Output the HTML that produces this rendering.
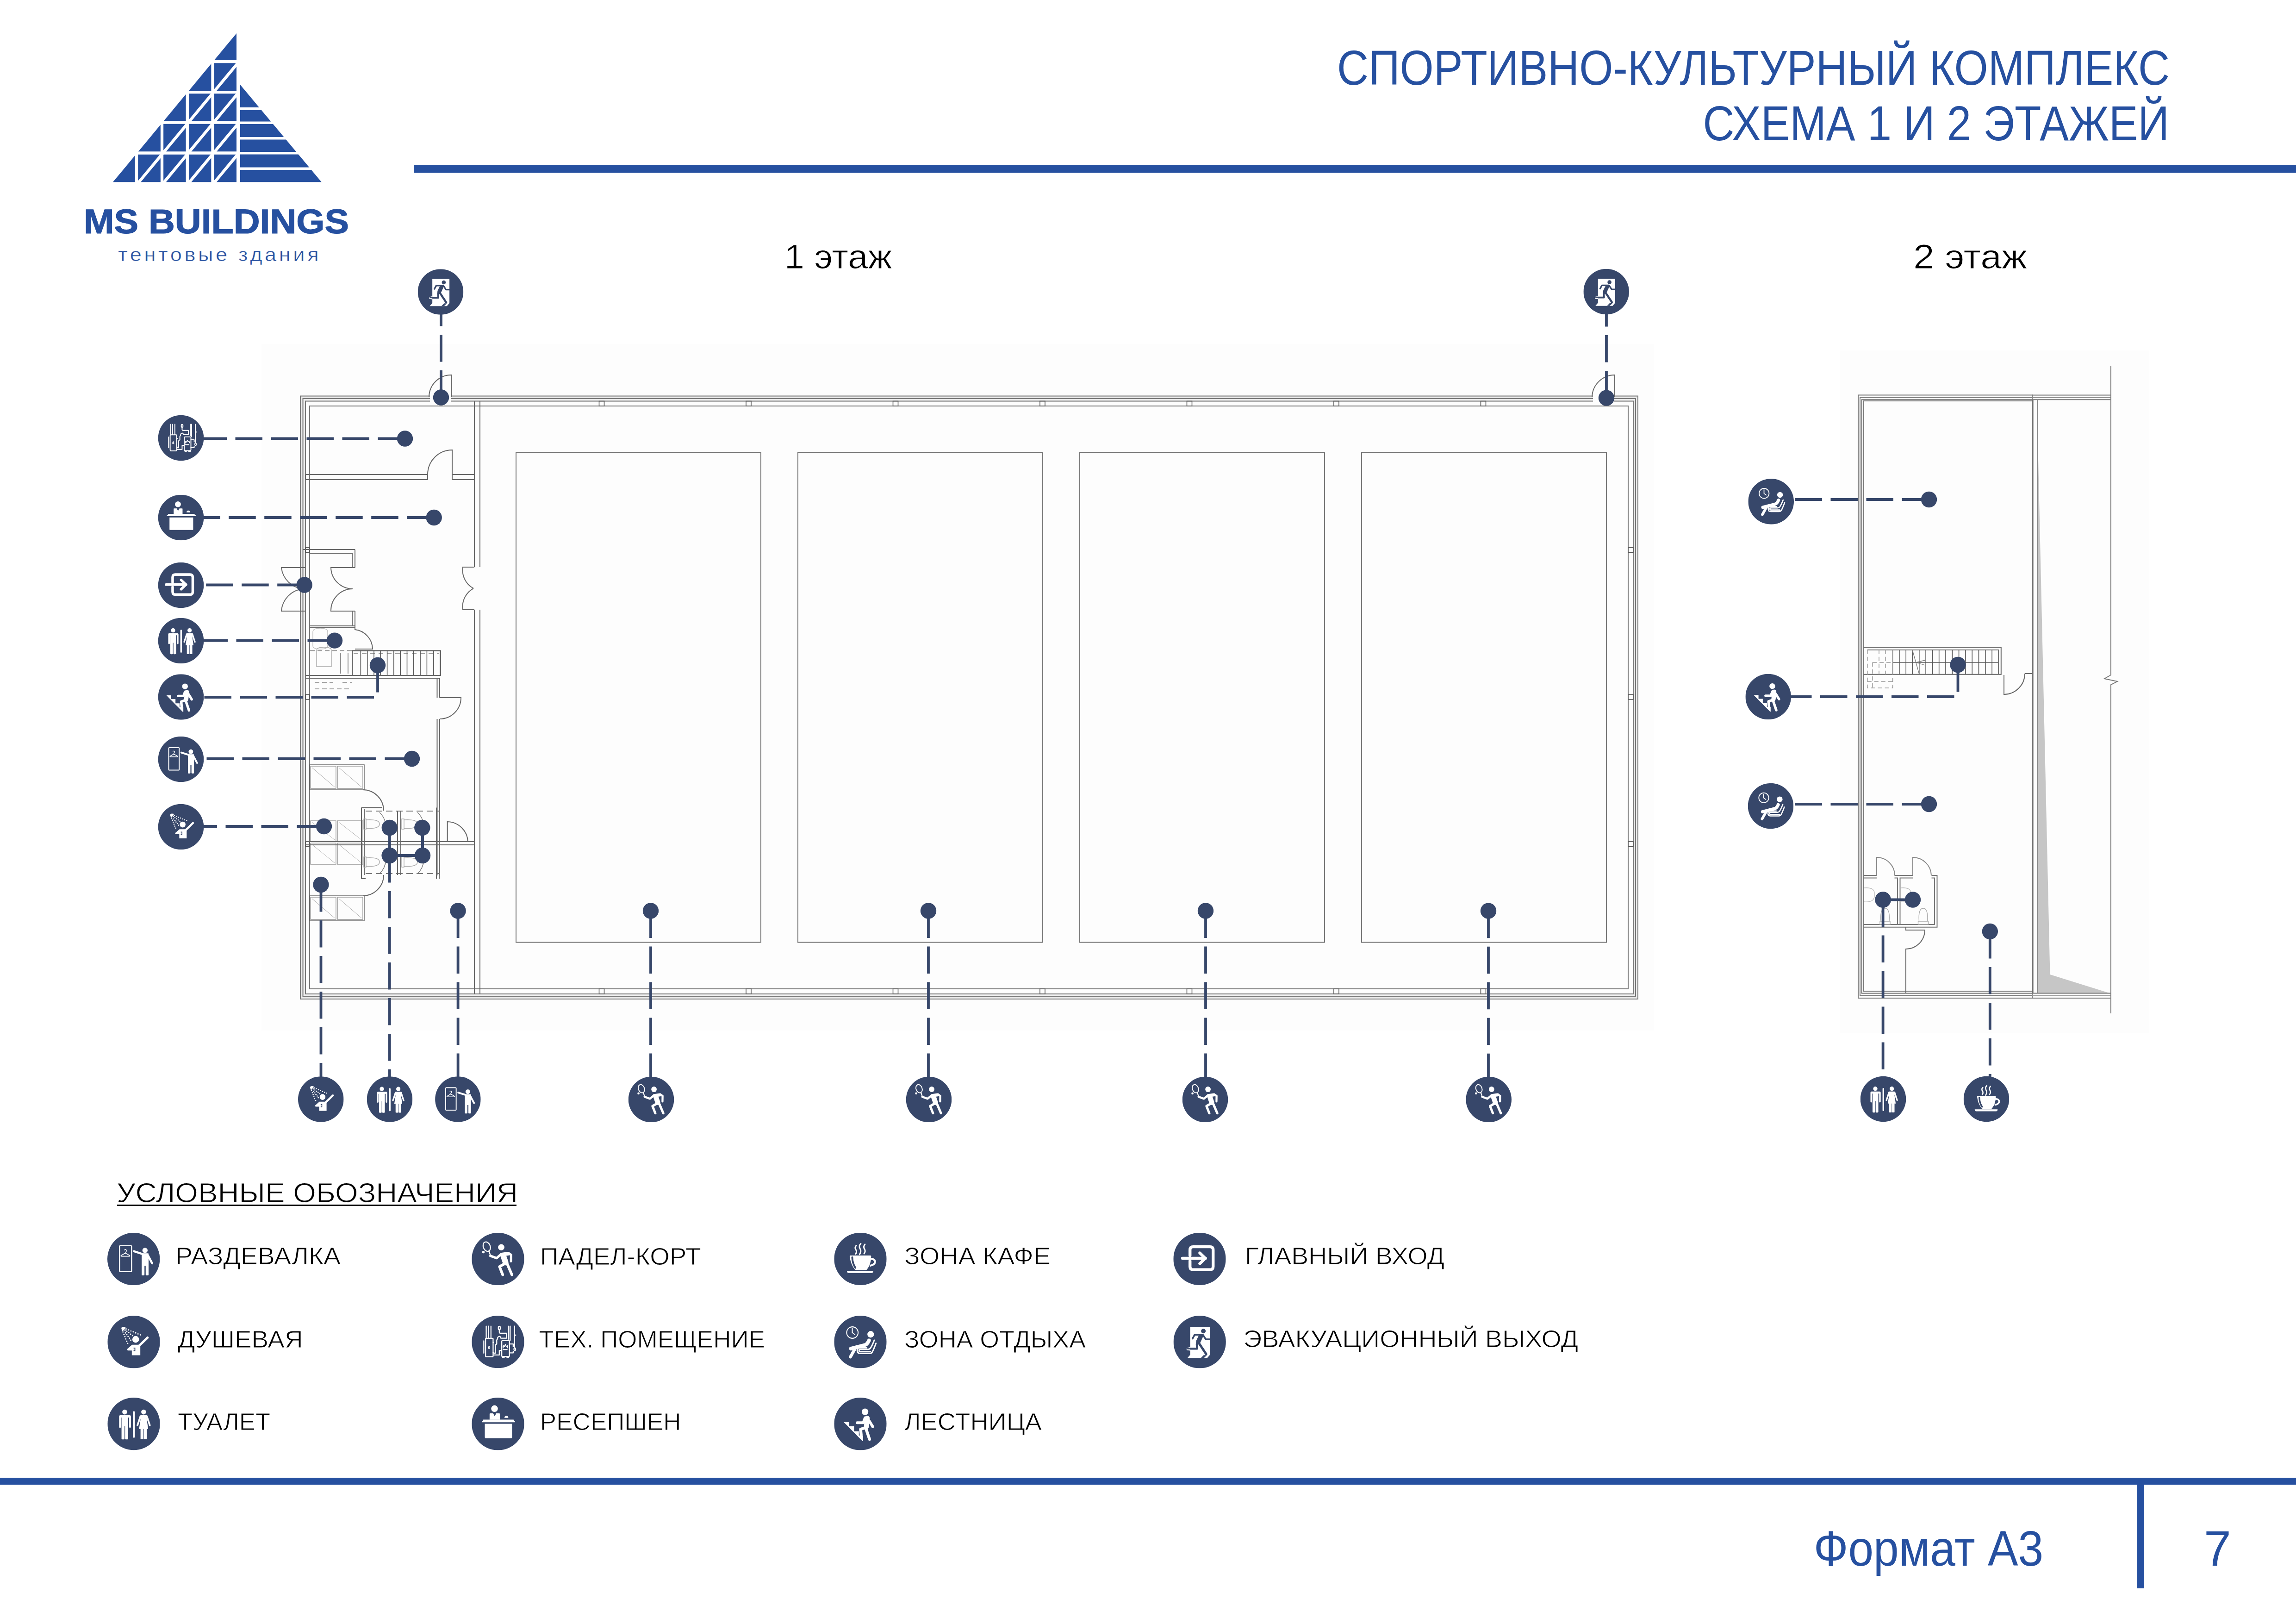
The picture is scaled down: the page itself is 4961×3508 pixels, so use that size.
<!DOCTYPE html>
<html><head><meta charset="utf-8"><style>
html,body{margin:0;padding:0;background:#fff;}
body{width:4961px;height:3508px;overflow:hidden;position:relative;}
svg{position:absolute;left:0;top:0;}
text{font-family:"Liberation Sans",sans-serif;}
</style></head><body>
<svg width="4961" height="3508" viewBox="0 0 4961 3508">
<defs>
<symbol id="i-exit" viewBox="0 0 100 100"><circle cx="50" cy="50" r="50" fill="#37476a"/>
<path fill="#fff" d="M31.9,21.7 H69.4 V74.7 L63.8,81.1 H26.1 L31.9,74.4 Z"/>
<path fill="#fff" d="M31.9,59.5 L26.5,61 Q24,63 25.5,65.5 L31.9,66.5 Z"/>
<g stroke="#37476a" fill="none" stroke-linecap="round" stroke-linejoin="round">
<circle cx="57" cy="29.2" r="4.4" fill="#37476a" stroke="none"/>
<path d="M40.5,36.2 H55.5" stroke-width="3.2"/>
<path d="M40.5,36.2 L36.4,43.5" stroke-width="3.3"/>
<path d="M56.2,36.5 L61.8,45.1 H69.6" stroke-width="3.3"/>
<path d="M44.5,53.5 L45,62.8 H28" stroke-width="4"/>
<path d="M49,53 L62.3,73" stroke-width="4.4"/>
</g>
<path fill="#37476a" d="M48.4,37.2 L56.2,34.4 Q57.5,36 55.6,41.5 L49.6,54.5 L43.2,55 Q42.6,50 43.4,47.5 Z"/>
<path fill="#37476a" d="M51.7,81.1 L57.6,75 H63.8 L57.5,81.1 Z"/>
<path d="M26.8,64.6 H31.9" stroke="#fff" stroke-width="1.2"/>
</symbol>
<symbol id="i-locker" viewBox="0 0 100 100"><circle cx="50" cy="50" r="50" fill="#37476a"/>
<rect x="23.2" y="24.7" width="23" height="49.2" rx="1.6" fill="none" stroke="#fff" stroke-width="2"/>
<path d="M34.3,38.6 L26.2,43.3 Q25.2,44.7 26.8,44.7 H41.9 Q43.5,44.7 42.5,43.3 Z" fill="none" stroke="#fff" stroke-width="1.5" stroke-linejoin="round"/>
<path d="M34.3,38.6 V37.2 Q36.4,36.3 36.3,34.1 Q36.1,31.8 34.2,31.8 Q32.5,31.9 32.4,33.6" fill="none" stroke="#fff" stroke-width="1.3"/>
<circle cx="71.7" cy="33.5" r="5" fill="#fff"/>
<path fill="#fff" d="M65.3,40 Q65.3,39.2 66.3,39.2 H77.5 Q78.5,39.2 78.5,40.5 V79.8 Q78.5,81.2 77,81.2 H74.4 Q73,81.2 73,79.8 V62.8 H70.7 V79.8 Q70.7,81.2 69.3,81.2 H66.7 Q65.3,81.2 65.3,79.8 Z"/>
<path d="M50.8,35.3 L67,40.6" stroke="#fff" stroke-width="4" stroke-linecap="round"/>
<path d="M77,42.5 L85.3,58.2" stroke="#fff" stroke-width="4" stroke-linecap="round"/>
</symbol>
<symbol id="i-shower" viewBox="0 0 100 100"><circle cx="50" cy="50" r="50" fill="#37476a"/>
<g fill="#fff"><circle cx="35.5" cy="25.3" r="1.3"/><circle cx="40.2" cy="27" r="1.3"/><circle cx="44.6" cy="29.1" r="1.3"/><circle cx="49" cy="30.7" r="1.3"/><circle cx="53.7" cy="32.8" r="1.3"/><circle cx="58.1" cy="34.8" r="1.3"/><circle cx="62.5" cy="36.5" r="1.3"/><circle cx="29.4" cy="31.1" r="1.3"/><circle cx="31.4" cy="35.5" r="1.3"/><circle cx="33.1" cy="39.9" r="1.3"/><circle cx="34.8" cy="44.3" r="1.3"/><circle cx="36.5" cy="48.6" r="1.3"/><circle cx="38.5" cy="52.7" r="1.3"/><circle cx="33.4" cy="27.4" r="1.3"/><circle cx="36.8" cy="29.7" r="1.3"/><circle cx="40.5" cy="32.4" r="1.3"/><circle cx="43.9" cy="35.1" r="1.3"/><circle cx="47.6" cy="37.8" r="1.3"/><circle cx="34.1" cy="32.8" r="1.3"/><circle cx="36.8" cy="36.1" r="1.3"/><circle cx="39.2" cy="39.5" r="1.3"/><circle cx="41.9" cy="42.9" r="1.3"/><circle cx="44.3" cy="46.6" r="1.3"/>
<path d="M26.3,23.6 Q27,20.8 30,21 L33.6,21.3 Q35,22.5 34,24 L28.8,29.6 Q27.2,28.6 26.3,23.6 Z"/>
<circle cx="53.7" cy="45" r="6.4"/>
<path d="M37.8,63.2 L46.8,55.2 H62.5 V75.3 H46.3 V66.2 H39.5 Q36.3,66 37.8,63.2 Z"/>
</g>
<path d="M60,57.5 L76.3,41.7" stroke="#fff" stroke-width="4.4" stroke-linecap="round"/>
<path d="M49.6,61.5 H52.2 V66.6 H49.6" fill="none" stroke="#37476a" stroke-width="1.6"/>
</symbol>
<symbol id="i-toilet" viewBox="0 0 100 100"><circle cx="50" cy="50" r="50" fill="#37476a"/>
<g fill="#fff">
<circle cx="32.8" cy="27.4" r="4.7"/>
<path d="M24.5,33.5 H42 Q44.6,33.5 44.6,36.3 V55.8 Q44.6,57.5 42.7,57.5 Q41.2,57.5 41.2,55.8 V38 H39.4 V78.2 Q39.4,79.6 37.7,79.6 H35 Q33.5,79.6 33.5,78.2 V54.5 H32.4 V78.2 Q32.4,79.6 30.9,79.6 H28.4 Q26.7,79.6 26.7,78.2 V38 H25.6 V55.8 Q25.6,57.5 23.8,57.5 Q22.1,57.5 22.1,55.8 V36.3 Q22.1,33.5 24.5,33.5 Z"/>
<rect x="48.6" y="25.7" width="3.4" height="50.7" rx="1.7"/>
<circle cx="68.9" cy="27.4" r="4.7"/>
<path d="M63.5,33.5 H74.3 Q76,33.5 76.6,35 L82.2,52.3 Q82.6,54 81,54.3 Q79.5,54.6 79,53 L74.5,40 L77.5,59.8 H74.9 V78.4 Q74.9,79.4 73.7,79.4 H70.6 Q69.4,79.4 69.4,78.4 V59.8 H68.6 V78.4 Q68.6,79.4 67.4,79.4 H64.2 Q62.9,79.4 62.9,78.4 V59.8 H60.1 L63.2,40 L58.7,53 Q58.2,54.6 56.7,54.3 Q55.1,54 55.5,52.3 L61.2,35 Q61.8,33.5 63.5,33.5 Z"/>
</g></symbol>
<symbol id="i-padel" viewBox="0 0 100 100"><circle cx="50" cy="50" r="50" fill="#37476a"/>
<ellipse cx="28.6" cy="26.4" rx="6.6" ry="9.3" transform="rotate(-22 28.6 26.4)" fill="none" stroke="#fff" stroke-width="2"/>
<path d="M32.6,34.6 L35.6,43" stroke="#fff" stroke-width="2.2"/>
<circle cx="22.2" cy="36.8" r="2.4" fill="#fff"/>
<circle cx="56.2" cy="27.7" r="6" fill="#fff"/>
<g stroke="#fff" fill="none" stroke-linecap="round" stroke-linejoin="round">
<path d="M35.5,44 L47.2,48.3 L55,41.8" stroke-width="4.6"/>
<path d="M57,41.5 L69.5,39.8" stroke-width="7"/>
<path d="M60.5,45 L64.5,56.5" stroke-width="11"/>
<path d="M70.7,39.6 L75,42 L74.8,54.3" stroke-width="4.4"/>
<path d="M64,58.2 L52.9,64.5 L59,80" stroke-width="5.2"/>
<path d="M67.5,59 L76.5,80" stroke-width="5.2"/>
</g></symbol>
<symbol id="i-tech" viewBox="0 0 100 100"><circle cx="50" cy="50" r="50" fill="#37476a"/>
<g stroke="#fff" fill="none" stroke-width="2" stroke-linecap="round" stroke-linejoin="round">
<rect x="26.3" y="43.2" width="14.4" height="35.1" rx="1.5"/>
<path d="M27.6,20 V43 M31.8,20 V43 M36.6,20 V43"/>
<path d="M23,48 V71.5"/>
<path d="M40.7,51 H42 M40.7,70 H42"/>
<path d="M33.1,58 Q31.2,61 31.8,62 Q32.6,63.5 34.4,62 Q35,61 33.1,58 Z" stroke-width="1.5"/>
<rect x="57.2" y="47.6" width="14.6" height="30.3" rx="1.5"/>
<path d="M58.7,78 V80 H62 V78 M67,78 V80 H70.5 V78" stroke-width="1.6"/>
<path d="M60,64.7 H67.5" stroke-width="1.8"/>
<path d="M60.3,61.5 Q58.8,58.5 61,57 Q61.5,59.5 63,59 Q62.5,56.5 64.3,55 Q65,58.5 66.5,58.5 Q67.5,57.5 67.8,57 Q69.5,59.8 67.8,61.5" stroke-width="1.5"/>
<rect x="50.7" y="20.2" width="3.6" height="6.6" rx="1.8"/>
<path d="M52.5,27 V31.5 Q52.5,33.5 54.5,33.5 H66.3 V43 H55.6 Q54.5,38 51.2,40 Q49,41.2 49.2,43.5 Q49,45 47.6,46.5 V54 L45,56 V71.5 H42"/>
<path d="M70.4,20 V45 M73.2,20 V47 M81.5,20 V61 M81.5,37 H84"/>
<path d="M71.8,54 H79 V59 M71.8,71 H79 V68"/>
<ellipse cx="82" cy="64" rx="1.6" ry="2.5"/>
<path d="M42,75 H52.5 V66.5 H57"/>
</g></symbol>
<symbol id="i-reception" viewBox="0 0 100 100"><circle cx="50" cy="50" r="50" fill="#37476a"/>
<g fill="#fff">
<circle cx="43.4" cy="20.9" r="6.4"/>
<path d="M34.8,30 H40.7 L43.7,35.2 L46.7,30 H52.6 Q53.5,30 53.5,31 V42 H34 V31 Q34,30 34.8,30 Z"/>
<path d="M66,34.5 Q69.7,34.5 69.7,38.6 H62.3 Q62.3,34.5 66,34.5 Z"/>
<path d="M22.3,41.8 H79.4 Q80.1,41.8 80.1,43 V44.2 H81.8 Q82.5,44.2 82.5,45.4 V46 Q82.5,46.9 81.6,46.9 H20 Q19.2,46.9 19.2,46 V45.4 Q19.2,44.2 20,44.2 H21.5 V43 Q21.5,41.8 22.3,41.8 Z"/>
<path d="M24.9,49.8 H76.8 V75.5 Q76.8,77.2 75.2,77.2 H26.5 Q24.9,77.2 24.9,75.5 Z"/>
</g></symbol>
<symbol id="i-cafe" viewBox="0 0 100 100"><circle cx="50" cy="50" r="50" fill="#37476a"/>
<g fill="#fff">
<path d="M30.6,43.4 H69.2 Q70.5,43.4 70.6,45 Q70.5,60 63,69.5 Q62,71.4 60,71.4 H42 Q40,71.4 39,69.5 Q31.5,60 29.6,45 Q29.6,43.4 30.6,43.4 Z"/>
<path d="M24.8,72.5 H74.2 Q74.8,72.5 74.6,73.5 Q74,76.8 71.5,76.8 H27.5 Q25,76.8 24.4,73.5 Q24.2,72.5 24.8,72.5 Z"/>
</g>
<path d="M34.5,47 Q34.8,58 40.5,67" stroke="#37476a" stroke-width="3.5" fill="none" stroke-linecap="round"/>
<path d="M69,49.8 Q76.5,49.5 78,54.5 Q78.5,61 68,63" stroke="#fff" stroke-width="3.6" fill="none"/>
<g stroke="#fff" fill="none" stroke-width="2.6" stroke-linecap="round">
<path d="M42.2,24.5 Q38.6,28 41.2,32 Q44,36 41,40.5"/>
<path d="M50.8,20.8 Q46.4,25 49.4,30.5 Q52.5,35.5 48.5,41.5"/>
<path d="M58.8,22.2 Q55,26.5 57.8,31 Q60.6,35.5 57,40"/>
</g></symbol>
<symbol id="i-rest" viewBox="0 0 100 100"><circle cx="50" cy="50" r="50" fill="#37476a"/>
<circle cx="34.8" cy="32.1" r="10.9" fill="none" stroke="#fff" stroke-width="1.8"/>
<path d="M34.6,23.5 V32.2 L40,36.3" fill="none" stroke="#fff" stroke-width="1.8"/>
<circle cx="69.7" cy="35.4" r="6.3" fill="#fff"/>
<g stroke="#fff" fill="none" stroke-linecap="round" stroke-linejoin="round">
<path d="M66.5,47 Q63,55 58,56 L32,62.6" stroke-width="7"/>
<path d="M39.5,63.5 L31,78.5" stroke-width="5.8"/>
<path d="M76.5,46.6 Q72.5,57 69,62 Q67.5,64 64,64 H49.5 Q47.5,64 47.5,66 Q47.5,68.5 50,68.5 H69" stroke-width="2.6"/>
<path d="M79.8,52.4 Q75.5,64 73,68.5 Q71.5,71.8 67.5,71.8 H49.5 Q44,71.8 44,66 Q44,61 49.5,61 H62" stroke-width="2.6"/>
</g></symbol>
<symbol id="i-stairs" viewBox="0 0 100 100"><circle cx="50" cy="50" r="50" fill="#37476a"/>
<path fill="#fff" d="M18.2,46.5 H28.6 V54.5 H38 V64 H47.1 V72 H55.2 V82.8 L54,82.8 Z"/>
<circle cx="58.9" cy="26.9" r="6.3" fill="#fff"/>
<g stroke="#fff" fill="none" stroke-linecap="round" stroke-linejoin="round">
<path d="M63,39 Q62.5,48 61.5,55" stroke-width="9.5"/>
<path d="M59,38.5 L55.5,47.8 H44" stroke-width="5.4"/>
<path d="M66.7,44 L73.5,55.2" stroke-width="5.4"/>
<path d="M58.5,57.5 L50.5,60.2 L51.5,70.7" stroke-width="5.6"/>
<path d="M61,60 L67.5,79.3" stroke-width="5.6"/>
</g></symbol>
<symbol id="i-entrance" viewBox="0 0 100 100"><circle cx="50" cy="50" r="50" fill="#37476a"/>
<g stroke="#fff" fill="none" stroke-width="5.6" stroke-linecap="round" stroke-linejoin="round">
<path d="M31.7,43.5 V32.8 Q31.7,26.8 37.7,26.8 H69.8 Q75.8,26.8 75.8,32.8 V64.6 Q75.8,70.6 69.8,70.6 H37.7 Q31.7,70.6 31.7,64.6 V54"/>
<path d="M17.4,48.8 H61.2 M50.4,38.7 L60.8,48.8 L50.4,58.9"/>
</g></symbol>
</defs>

<g id="logo">
<polygon points="511,72 511,393.3 244,393.3" fill="#2650a0"/>
<polygon points="519,183 519,393.3 694.7,393.3" fill="#2650a0"/>
<clipPath id="lclip"><polygon points="230,50 513,50 513,400 230,400"/></clipPath>
<g stroke="#fff" stroke-width="6.3" clip-path="url(#lclip)"><line x1="240" y1="133.2" x2="515" y2="133.2"/><line x1="240" y1="199.1" x2="515" y2="199.1"/><line x1="240" y1="264.6" x2="515" y2="264.6"/><line x1="240" y1="330.5" x2="515" y2="330.5"/><line x1="295.0" y1="60" x2="295.0" y2="400"/><line x1="350.0" y1="60" x2="350.0" y2="400"/><line x1="404.8" y1="60" x2="404.8" y2="400"/><line x1="459.5" y1="60" x2="459.5" y2="400"/><line x1="294.5" y1="400" x2="577.1" y2="60"/><line x1="349.1" y1="400" x2="631.7" y2="60"/><line x1="403.7" y1="400" x2="686.3" y2="60"/><line x1="458.3" y1="400" x2="740.9" y2="60"/></g>
<g stroke="#fff" stroke-width="5.5"><line x1="515" y1="234.7" x2="700" y2="234.7"/><line x1="515" y1="265.3" x2="700" y2="265.3"/><line x1="515" y1="298.7" x2="700" y2="298.7"/><line x1="515" y1="330.8" x2="700" y2="330.8"/><line x1="515" y1="364.2" x2="700" y2="364.2"/></g>
</g>
<text x="180.91" y="504" font-size="74" font-weight="bold" fill="#2650a0" textLength="573.13" lengthAdjust="spacingAndGlyphs" stroke="#2650a0" stroke-width="1.2">MS BUILDINGS</text>
<text x="254.98" y="564" font-size="40.6" font-weight="normal" fill="#2650a0" textLength="439.22" lengthAdjust="spacingAndGlyphs" letter-spacing="5" stroke="#fff" stroke-width="0.5">тентовые здания</text>
<rect x="894" y="357" width="4067" height="16" fill="#2650a0"/>
<text x="2888.97" y="183" font-size="105" font-weight="normal" fill="#2650a0" textLength="1799.05" lengthAdjust="spacingAndGlyphs">СПОРТИВНО-КУЛЬТУРНЫЙ КОМПЛЕКС</text>
<text x="3679.44" y="303" font-size="105" font-weight="normal" fill="#2650a0" textLength="1007.67" lengthAdjust="spacingAndGlyphs">СХЕМА 1 И 2 ЭТАЖЕЙ</text>
<rect x="0" y="3192" width="4961" height="15" fill="#2650a0"/>
<rect x="4617" y="3207" width="15" height="224" fill="#2650a0"/>
<text x="3918.87" y="3382" font-size="107" font-weight="normal" fill="#2650a0" textLength="496.20" lengthAdjust="spacingAndGlyphs">Формат А3</text>
<text x="4762.08" y="3382" font-size="107" font-weight="normal" fill="#2650a0" textLength="58.83" lengthAdjust="spacingAndGlyphs">7</text>
<text x="1694.81" y="580" font-size="75" font-weight="normal" fill="#000" textLength="232.72" lengthAdjust="spacingAndGlyphs" stroke="#fff" stroke-width="1">1 этаж</text>
<text x="4133.91" y="580" font-size="75" font-weight="normal" fill="#000" textLength="246.11" lengthAdjust="spacingAndGlyphs" stroke="#fff" stroke-width="1">2 этаж</text>
<g id="plan"><rect x="565" y="743" width="3009" height="1483" fill="#fdfdfd"/>
<rect x="3975" y="757" width="669" height="1475" fill="#fdfdfd"/>
<path d="M649,855.5 H3539 V2158 H649 Z M660,866.5 V2147 H3529 V866.5 Z" fill="#ededed" fill-rule="evenodd"/>
<rect x="649" y="855.5" width="2890" height="1302.5" fill="none" stroke="#777" stroke-width="2"/>
<rect x="654.5" y="861" width="2879.5" height="1291" fill="none" stroke="#777" stroke-width="2"/>
<rect x="660" y="866.5" width="2869" height="1280.5" fill="none" stroke="#777" stroke-width="2"/>
<rect x="669" y="877" width="2849" height="1259" fill="none" stroke="#777" stroke-width="2"/>
<rect x="1294.5" y="866.5" width="11.0" height="10.5" fill="none" stroke="#555" stroke-width="1.6"/>
<rect x="1294.5" y="2136" width="11.0" height="11" fill="none" stroke="#555" stroke-width="1.6"/>
<rect x="1612.0" y="866.5" width="11.0" height="10.5" fill="none" stroke="#555" stroke-width="1.6"/>
<rect x="1612.0" y="2136" width="11.0" height="11" fill="none" stroke="#555" stroke-width="1.6"/>
<rect x="1929.5" y="866.5" width="11.0" height="10.5" fill="none" stroke="#555" stroke-width="1.6"/>
<rect x="1929.5" y="2136" width="11.0" height="11" fill="none" stroke="#555" stroke-width="1.6"/>
<rect x="2247.0" y="866.5" width="11.0" height="10.5" fill="none" stroke="#555" stroke-width="1.6"/>
<rect x="2247.0" y="2136" width="11.0" height="11" fill="none" stroke="#555" stroke-width="1.6"/>
<rect x="2564.5" y="866.5" width="11.0" height="10.5" fill="none" stroke="#555" stroke-width="1.6"/>
<rect x="2564.5" y="2136" width="11.0" height="11" fill="none" stroke="#555" stroke-width="1.6"/>
<rect x="2882.0" y="866.5" width="11.0" height="10.5" fill="none" stroke="#555" stroke-width="1.6"/>
<rect x="2882.0" y="2136" width="11.0" height="11" fill="none" stroke="#555" stroke-width="1.6"/>
<rect x="3199.5" y="866.5" width="11.0" height="10.5" fill="none" stroke="#555" stroke-width="1.6"/>
<rect x="3199.5" y="2136" width="11.0" height="11" fill="none" stroke="#555" stroke-width="1.6"/>
<rect x="3518" y="1182.5" width="11" height="11.0" fill="none" stroke="#555" stroke-width="1.6"/>
<rect x="660" y="1182.5" width="9" height="11.0" fill="none" stroke="#555" stroke-width="1.6"/>
<rect x="3518" y="1500.0" width="11" height="11.0" fill="none" stroke="#555" stroke-width="1.6"/>
<rect x="660" y="1500.0" width="9" height="11.0" fill="none" stroke="#555" stroke-width="1.6"/>
<rect x="3518" y="1817.5" width="11" height="11.0" fill="none" stroke="#555" stroke-width="1.6"/>
<rect x="660" y="1817.5" width="9" height="11.0" fill="none" stroke="#555" stroke-width="1.6"/>
<path d="M670,1405.5 H760 M680,1474 H720 M740,1474 H760 M680,1488 H760" stroke="#888" stroke-width="1.6" stroke-dasharray="10 6" fill="none"/>
<line x1="736" y1="1410" x2="736" y2="1455" stroke="#777" stroke-width="1.6"/>
<line x1="752" y1="1410" x2="752" y2="1455" stroke="#777" stroke-width="1.6"/>
<line x1="761" y1="1405.5" x2="952" y2="1405.5" stroke="#555" stroke-width="2.2"/>
<path d="M764,1411.5 H948" stroke="#999" stroke-width="1.4" stroke-dasharray="10 8" fill="none"/>
<path d="M684,1405 Q684,1398 700,1398 Q716,1398 716,1405 V1440 H684 Z" fill="none" stroke="#aaa" stroke-width="1.4"/>
<path d="M676,1365 Q676,1357 692,1357 Q708,1357 708,1365 V1395 Q708,1402 692,1402 Q676,1402 676,1395 Z" fill="none" stroke="#bbb" stroke-width="1.4"/>
<rect x="1115" y="977" width="529" height="1058.5" fill="none" stroke="#777" stroke-width="2"/>
<rect x="1724" y="977" width="529" height="1058.5" fill="none" stroke="#777" stroke-width="2"/>
<rect x="2333" y="977" width="529" height="1058.5" fill="none" stroke="#777" stroke-width="2"/>
<rect x="2942" y="977" width="529" height="1058.5" fill="none" stroke="#777" stroke-width="2"/>
<line x1="1025" y1="867" x2="1025" y2="1225" stroke="#666" stroke-width="2"/>
<line x1="1037" y1="867" x2="1037" y2="1225" stroke="#666" stroke-width="2"/>
<line x1="1025" y1="1317" x2="1025" y2="2147" stroke="#666" stroke-width="2"/>
<line x1="1037" y1="1317" x2="1037" y2="2147" stroke="#666" stroke-width="2"/>
<rect x="660" y="1025" width="264" height="11" fill="none" stroke="#666" stroke-width="2"/>
<rect x="977" y="1025" width="48" height="11" fill="none" stroke="#666" stroke-width="2"/>
<path d="M924,1025 A53,53 0 0 1 977,972 V1025" fill="none" stroke="#666" stroke-width="2"/>
<path d="M1025,1225 H1000 A45,45 0 0 0 1023,1271 M1025,1317 H1000 A45,45 0 0 1 1023,1271" fill="none" stroke="#666" stroke-width="2"/>
<line x1="654" y1="1187" x2="767" y2="1187" stroke="#666" stroke-width="2"/>
<line x1="669" y1="1195" x2="761" y2="1195" stroke="#666" stroke-width="2"/>
<line x1="761" y1="1195" x2="761" y2="1226" stroke="#666" stroke-width="2"/>
<line x1="767" y1="1187" x2="767" y2="1226" stroke="#666" stroke-width="2"/>
<line x1="761" y1="1320" x2="761" y2="1352" stroke="#666" stroke-width="2"/>
<line x1="767" y1="1320" x2="767" y2="1356" stroke="#666" stroke-width="2"/>
<line x1="669" y1="1352" x2="767" y2="1352" stroke="#666" stroke-width="2"/>
<line x1="669" y1="1356" x2="767" y2="1356" stroke="#666" stroke-width="2"/>
<path d="M767,1226 H715 A47,47 0 0 0 762,1272 M767,1320 H715 A47,47 0 0 1 762,1272" fill="none" stroke="#666" stroke-width="2"/>
<path d="M660,1226 H608 A52,52 0 0 0 655,1272 M660,1320 H608 A52,52 0 0 1 655,1272" fill="none" stroke="#666" stroke-width="2"/>
<rect x="761.6" y="1405.5" width="190.39999999999998" height="53.5" fill="none" stroke="#666" stroke-width="2"/>
<line x1="779.4" y1="1405.5" x2="779.4" y2="1459" stroke="#555" stroke-width="1.6"/>
<line x1="793.6999999999999" y1="1405.5" x2="793.6999999999999" y2="1459" stroke="#555" stroke-width="1.6"/>
<line x1="808.0" y1="1405.5" x2="808.0" y2="1459" stroke="#555" stroke-width="1.6"/>
<line x1="822.3" y1="1405.5" x2="822.3" y2="1459" stroke="#555" stroke-width="1.6"/>
<line x1="836.6" y1="1405.5" x2="836.6" y2="1459" stroke="#555" stroke-width="1.6"/>
<line x1="850.9" y1="1405.5" x2="850.9" y2="1459" stroke="#555" stroke-width="1.6"/>
<line x1="865.2" y1="1405.5" x2="865.2" y2="1459" stroke="#555" stroke-width="1.6"/>
<line x1="879.5" y1="1405.5" x2="879.5" y2="1459" stroke="#555" stroke-width="1.6"/>
<line x1="893.8" y1="1405.5" x2="893.8" y2="1459" stroke="#555" stroke-width="1.6"/>
<line x1="908.1" y1="1405.5" x2="908.1" y2="1459" stroke="#555" stroke-width="1.6"/>
<line x1="922.4" y1="1405.5" x2="922.4" y2="1459" stroke="#555" stroke-width="1.6"/>
<line x1="936.7" y1="1405.5" x2="936.7" y2="1459" stroke="#555" stroke-width="1.6"/>
<line x1="951.0" y1="1405.5" x2="951.0" y2="1459" stroke="#555" stroke-width="1.6"/>
<line x1="660" y1="1459" x2="948" y2="1459" stroke="#666" stroke-width="2"/>
<line x1="660" y1="1465" x2="948" y2="1465" stroke="#666" stroke-width="2"/>
<line x1="944.5" y1="1465" x2="944.5" y2="1507" stroke="#666" stroke-width="2"/>
<line x1="950" y1="1465" x2="950" y2="1507" stroke="#666" stroke-width="2"/>
<line x1="944.5" y1="1553" x2="944.5" y2="1891" stroke="#666" stroke-width="2"/>
<line x1="950" y1="1553" x2="950" y2="1891" stroke="#666" stroke-width="2"/>
<path d="M950,1507 H996 A46,46 0 0 1 950,1553" fill="none" stroke="#666" stroke-width="2"/>
<path d="M767,1356 V1360 A43,43 0 0 1 805,1402 H767" fill="none" stroke="#666" stroke-width="2"/>
<rect x="671" y="1655" width="55" height="48" fill="none" stroke="#999" stroke-width="1.5"/><line x1="674" y1="1658" x2="723" y2="1700" stroke="#aaa" stroke-width="1"/>
<rect x="729" y="1655" width="55" height="48" fill="none" stroke="#999" stroke-width="1.5"/><line x1="732" y1="1658" x2="781" y2="1700" stroke="#aaa" stroke-width="1"/>
<rect x="671" y="1773" width="55" height="44" fill="none" stroke="#999" stroke-width="1.5"/><line x1="674" y1="1776" x2="723" y2="1814" stroke="#aaa" stroke-width="1"/>
<rect x="729" y="1773" width="55" height="44" fill="none" stroke="#999" stroke-width="1.5"/><line x1="732" y1="1776" x2="781" y2="1814" stroke="#aaa" stroke-width="1"/>
<rect x="671" y="1821" width="55" height="46" fill="none" stroke="#999" stroke-width="1.5"/><line x1="674" y1="1824" x2="723" y2="1864" stroke="#aaa" stroke-width="1"/>
<rect x="729" y="1821" width="55" height="46" fill="none" stroke="#999" stroke-width="1.5"/><line x1="732" y1="1824" x2="781" y2="1864" stroke="#aaa" stroke-width="1"/>
<rect x="671" y="1938" width="55" height="48" fill="none" stroke="#999" stroke-width="1.5"/><line x1="674" y1="1941" x2="723" y2="1983" stroke="#aaa" stroke-width="1"/>
<rect x="729" y="1938" width="55" height="48" fill="none" stroke="#999" stroke-width="1.5"/><line x1="732" y1="1941" x2="781" y2="1983" stroke="#aaa" stroke-width="1"/>
<rect x="669" y="1652" width="118" height="54" fill="none" stroke="#666" stroke-width="1.5"/>
<rect x="669" y="1935" width="118" height="54" fill="none" stroke="#666" stroke-width="1.5"/>
<path d="M784,1706 A45,45 0 0 1 829,1751 M784,1935 A45,45 0 0 0 829,1890" fill="none" stroke="#666" stroke-width="2"/>
<path d="M781,1744.5 V1898 H790 M787,1747 V1890 M781,1744.5 H825 M943,1744.5 V1898 M949,1744.5 V1898" fill="none" stroke="#666" stroke-width="2"/>
<path d="M790,1752 H950 M790,1887 H950" fill="none" stroke="#777" stroke-width="2" stroke-dasharray="14 8"/>
<line x1="859" y1="1752" x2="859" y2="1890" stroke="#666" stroke-width="2"/>
<line x1="866" y1="1752" x2="866" y2="1890" stroke="#666" stroke-width="2"/>
<path d="M786,1769 h5 v22 h-5 Z M791,1771 Q820,1769 820,1780 Q820,1791 791,1789" fill="none" stroke="#aaa" stroke-width="1.4"/>
<path d="M786,1851 h5 v22 h-5 Z M791,1853 Q820,1851 820,1862 Q820,1873 791,1871" fill="none" stroke="#aaa" stroke-width="1.4"/>
<path d="M868,1769 h5 v22 h-5 Z M873,1771 Q902,1769 902,1780 Q902,1791 873,1789" fill="none" stroke="#aaa" stroke-width="1.4"/>
<path d="M868,1851 h5 v22 h-5 Z M873,1853 Q902,1851 902,1862 Q902,1873 873,1871" fill="none" stroke="#aaa" stroke-width="1.4"/>
<path d="M820,1755 Q832,1765 834,1785" fill="none" stroke="#777" stroke-width="1.5"/>
<path d="M902,1755 Q914,1765 916,1785" fill="none" stroke="#777" stroke-width="1.5"/>
<path d="M820,1887 Q832,1877 834,1857" fill="none" stroke="#777" stroke-width="1.5"/>
<path d="M902,1887 Q914,1877 916,1857" fill="none" stroke="#777" stroke-width="1.5"/>
<line x1="660" y1="1818" x2="1024" y2="1818" stroke="#666" stroke-width="2"/>
<line x1="660" y1="1825" x2="1024" y2="1825" stroke="#666" stroke-width="2"/>
<path d="M966.7,1819 V1775 A45,45 0 0 1 1011,1819" fill="none" stroke="#666" stroke-width="2"/>
<path d="M927,857 A48,48 0 0 1 975.5,810 V857" fill="none" stroke="#666" stroke-width="2"/>
<path d="M3440,857 A49,49 0 0 1 3489,810 V857" fill="none" stroke="#666" stroke-width="2"/>
<rect x="929" y="852" width="46" height="16" fill="#fdfdfd"/>
<rect x="3442" y="852" width="46" height="16" fill="#fdfdfd"/>
<rect x="4015" y="853.4" width="376" height="1302.6" fill="none" stroke="#777" stroke-width="2"/>
<rect x="4019" y="858.4" width="372" height="1292.2999999999997" fill="none" stroke="#777" stroke-width="2"/>
<rect x="4022.6" y="863.3" width="368.4000000000001" height="1282.3" fill="none" stroke="#777" stroke-width="2"/>
<rect x="4026.6" y="866" width="364.4000000000001" height="1275" fill="none" stroke="#777" stroke-width="2"/>
<polygon points="4403,947 4429.5,2105 4559,2145.6 4403,2145.6" fill="#c6c6c6"/>
<line x1="4391" y1="853.4" x2="4561" y2="853.4" stroke="#777" stroke-width="2"/>
<line x1="4391" y1="858.4" x2="4561" y2="858.4" stroke="#888" stroke-width="2"/>
<line x1="4391" y1="863.3" x2="4561" y2="863.3" stroke="#777" stroke-width="2"/>
<line x1="4391" y1="2145.6" x2="4561" y2="2145.6" stroke="#777" stroke-width="2"/>
<line x1="4391" y1="2150.7" x2="4561" y2="2150.7" stroke="#999" stroke-width="1.6"/>
<line x1="4391" y1="2156" x2="4561" y2="2156" stroke="#777" stroke-width="2"/>
<line x1="4392.6" y1="864" x2="4392.6" y2="2145" stroke="#666" stroke-width="2"/>
<line x1="4402.2" y1="864" x2="4402.2" y2="2145" stroke="#888" stroke-width="2.4"/>
<path d="M4561,790 V1458 L4547,1466 L4575,1472 L4561,1479 V2189" fill="none" stroke="#777" stroke-width="2"/>
<path d="M4026.6,1398.3 H4323.8 V1456.8 H4026.6" fill="none" stroke="#666" stroke-width="2"/>
<path d="M4034.8,1403.8 H4318 V1456.8" fill="none" stroke="#666" stroke-width="1.8"/>
<line x1="4089.6" y1="1431.2" x2="4318" y2="1431.2" stroke="#666" stroke-width="1.6"/>
<line x1="4103.9" y1="1403.8" x2="4103.9" y2="1456.8" stroke="#555" stroke-width="1.6"/>
<line x1="4118.2" y1="1403.8" x2="4118.2" y2="1456.8" stroke="#555" stroke-width="1.6"/>
<line x1="4132.5" y1="1403.8" x2="4132.5" y2="1456.8" stroke="#555" stroke-width="1.6"/>
<line x1="4146.799999999999" y1="1403.8" x2="4146.799999999999" y2="1456.8" stroke="#555" stroke-width="1.6"/>
<line x1="4161.099999999999" y1="1403.8" x2="4161.099999999999" y2="1456.8" stroke="#555" stroke-width="1.6"/>
<line x1="4175.4" y1="1403.8" x2="4175.4" y2="1456.8" stroke="#555" stroke-width="1.6"/>
<line x1="4189.7" y1="1403.8" x2="4189.7" y2="1456.8" stroke="#555" stroke-width="1.6"/>
<line x1="4204.0" y1="1403.8" x2="4204.0" y2="1456.8" stroke="#555" stroke-width="1.6"/>
<line x1="4218.299999999999" y1="1403.8" x2="4218.299999999999" y2="1456.8" stroke="#555" stroke-width="1.6"/>
<line x1="4232.599999999999" y1="1403.8" x2="4232.599999999999" y2="1456.8" stroke="#555" stroke-width="1.6"/>
<line x1="4246.9" y1="1403.8" x2="4246.9" y2="1456.8" stroke="#555" stroke-width="1.6"/>
<line x1="4261.2" y1="1403.8" x2="4261.2" y2="1456.8" stroke="#555" stroke-width="1.6"/>
<line x1="4275.5" y1="1403.8" x2="4275.5" y2="1456.8" stroke="#555" stroke-width="1.6"/>
<line x1="4289.799999999999" y1="1403.8" x2="4289.799999999999" y2="1456.8" stroke="#555" stroke-width="1.6"/>
<line x1="4304.099999999999" y1="1403.8" x2="4304.099999999999" y2="1456.8" stroke="#555" stroke-width="1.6"/>
<line x1="4089.6" y1="1403.8" x2="4089.6" y2="1456.8" stroke="#888" stroke-width="1.6"/>
<path d="M4034.8,1403.8 V1486 H4089.6 V1456.8 M4046,1431 H4089 M4034.8,1472 H4089.6 M4046,1431 V1486 M4060,1403.8 V1456.8 M4074,1403.8 V1456.8" fill="none" stroke="#999" stroke-width="1.5" stroke-dasharray="9 6"/>
<path d="M4132,1403.8 L4147,1456.8 M4140,1431 L4160,1426 M4140,1431 L4160,1437" fill="none" stroke="#777" stroke-width="1.3"/>
<line x1="4376" y1="1455" x2="4391" y2="1455" stroke="#666" stroke-width="2"/>
<path d="M4330,1458 V1500 A45,45 0 0 0 4375,1455" fill="none" stroke="#666" stroke-width="2"/>
<path d="M4027,1891 H4055 M4093.5,1891 H4133 M4173.5,1891 H4185.5 V2002.8 H4027 M4027,1896.6 H4055 M4093.5,1896.6 H4100 V1997 M4105.5,1997 V1896.6 H4133 M4173.5,1896.6 H4180 V1997 H4027" fill="none" stroke="#777" stroke-width="2"/>
<path d="M4062,1990 h22 v7 h-22 Z M4064,1990 Q4062,1962 4073,1962 Q4084,1962 4082,1990" fill="none" stroke="#aaa" stroke-width="1.4"/>
<path d="M4144.5,1990 h22 v7 h-22 Z M4146.5,1990 Q4144.5,1962 4155.5,1962 Q4166.5,1962 4164.5,1990" fill="none" stroke="#aaa" stroke-width="1.4"/>
<path d="M4028,1918 Q4052,1916 4050,1932 Q4052,1950 4028,1948" fill="none" stroke="#bbb" stroke-width="1.4"/>
<path d="M4107,1918 Q4131,1916 4129,1932 Q4131,1950 4107,1948" fill="none" stroke="#bbb" stroke-width="1.4"/>
<path d="M4055,1891 V1852 A39,39 0 0 1 4094,1891 M4133,1891 V1852 A40,40 0 0 1 4173,1891" fill="none" stroke="#888" stroke-width="2"/>
<path d="M4118,2145 V2050 A41,41 0 0 0 4159,2009 H4118 V2003" fill="none" stroke="#666" stroke-width="2"/></g>
<g id="callouts"><polyline points="875,947.5 391,947.5" fill="none" stroke="#37476a" stroke-width="5.8" stroke-dasharray="58.5 18.5"/>
<polyline points="937.7,1118 391,1118" fill="none" stroke="#37476a" stroke-width="5.8" stroke-dasharray="58.5 18.5"/>
<polyline points="657.7,1263.5 391,1263.5" fill="none" stroke="#37476a" stroke-width="5.8" stroke-dasharray="58.5 18.5"/>
<polyline points="723,1383.6 391,1383.6" fill="none" stroke="#37476a" stroke-width="5.8" stroke-dasharray="58.5 18.5"/>
<polyline points="816,1437 816,1506 391,1506" fill="none" stroke="#37476a" stroke-width="5.8" stroke-dasharray="58.5 18.5"/>
<polyline points="890,1639 391,1639" fill="none" stroke="#37476a" stroke-width="5.8" stroke-dasharray="58.5 18.5"/>
<polyline points="700,1785 391,1785" fill="none" stroke="#37476a" stroke-width="5.8" stroke-dasharray="58.5 18.5"/>
<polyline points="693.5,1911 693.5,2374" fill="none" stroke="#37476a" stroke-width="5.8" stroke-dasharray="58.5 18.5"/>
<polyline points="841.8,1848 841.8,2374" fill="none" stroke="#37476a" stroke-width="5.8" stroke-dasharray="58.5 18.5"/>
<polyline points="989.6,1967.5 989.6,2374" fill="none" stroke="#37476a" stroke-width="5.8" stroke-dasharray="58.5 18.5"/>
<polyline points="1406,1967.5 1406,2374" fill="none" stroke="#37476a" stroke-width="5.8" stroke-dasharray="58.5 18.5"/>
<polyline points="2006,1967.5 2006,2374" fill="none" stroke="#37476a" stroke-width="5.8" stroke-dasharray="58.5 18.5"/>
<polyline points="2605,1967.5 2605,2374" fill="none" stroke="#37476a" stroke-width="5.8" stroke-dasharray="58.5 18.5"/>
<polyline points="3216,1967.7 3216,2374" fill="none" stroke="#37476a" stroke-width="5.8" stroke-dasharray="58.5 18.5"/>
<polyline points="953,858.5 953,631" fill="none" stroke="#37476a" stroke-width="5.8" stroke-dasharray="58.5 18.5"/>
<polyline points="3471,859.6 3471,631" fill="none" stroke="#37476a" stroke-width="5.8" stroke-dasharray="58.5 18.5"/>
<polyline points="4168,1079 3827,1079" fill="none" stroke="#37476a" stroke-width="5.8" stroke-dasharray="58.5 18.5"/>
<polyline points="4230.5,1436 4230.5,1505 3821,1505" fill="none" stroke="#37476a" stroke-width="5.8" stroke-dasharray="58.5 18.5"/>
<polyline points="4168,1737 3826,1737" fill="none" stroke="#37476a" stroke-width="5.8" stroke-dasharray="58.5 18.5"/>
<polyline points="4068.6,1943.5 4068.6,2374" fill="none" stroke="#37476a" stroke-width="5.8" stroke-dasharray="58.5 18.5"/>
<polyline points="4299.8,2012 4299.8,2374" fill="none" stroke="#37476a" stroke-width="5.8" stroke-dasharray="58.5 18.5"/>
<circle cx="875" cy="947.5" r="17.2" fill="#37476a"/>
<use href="#i-tech" x="341.7" y="896.7" width="98.6" height="98.6"/>
<circle cx="937.7" cy="1118" r="17.2" fill="#37476a"/>
<use href="#i-reception" x="341.7" y="1068.7" width="98.6" height="98.6"/>
<circle cx="657.7" cy="1263.5" r="17.2" fill="#37476a"/>
<use href="#i-entrance" x="341.7" y="1214.7" width="98.6" height="98.6"/>
<circle cx="723" cy="1383.6" r="17.2" fill="#37476a"/>
<use href="#i-toilet" x="341.7" y="1334.7" width="98.6" height="98.6"/>
<circle cx="816" cy="1437" r="17.2" fill="#37476a"/>
<use href="#i-stairs" x="341.7" y="1456.2" width="98.6" height="98.6"/>
<circle cx="890" cy="1639" r="17.2" fill="#37476a"/>
<use href="#i-locker" x="341.7" y="1590.7" width="98.6" height="98.6"/>
<circle cx="700" cy="1785" r="17.2" fill="#37476a"/>
<use href="#i-shower" x="341.7" y="1736.7" width="98.6" height="98.6"/>
<circle cx="693.5" cy="1911" r="17.2" fill="#37476a"/>
<use href="#i-shower" x="644.0" y="2325.2" width="98.6" height="98.6"/>
<circle cx="841.8" cy="1848" r="17.2" fill="#37476a"/>
<use href="#i-toilet" x="792.7" y="2325.2" width="98.6" height="98.6"/>
<circle cx="989.6" cy="1967.5" r="17.2" fill="#37476a"/>
<use href="#i-locker" x="940.1" y="2325.2" width="98.6" height="98.6"/>
<circle cx="1406" cy="1967.5" r="17.2" fill="#37476a"/>
<use href="#i-padel" x="1357.7" y="2325.7" width="98.6" height="98.6"/>
<circle cx="2006" cy="1967.5" r="17.2" fill="#37476a"/>
<use href="#i-padel" x="1957.7" y="2325.7" width="98.6" height="98.6"/>
<circle cx="2605" cy="1967.5" r="17.2" fill="#37476a"/>
<use href="#i-padel" x="2554.7" y="2325.7" width="98.6" height="98.6"/>
<circle cx="3216" cy="1967.7" r="17.2" fill="#37476a"/>
<use href="#i-padel" x="3167.4" y="2325.7" width="98.6" height="98.6"/>
<circle cx="953" cy="858.5" r="17.2" fill="#37476a"/>
<use href="#i-exit" x="902.7" y="581.2" width="98.6" height="98.6"/>
<circle cx="3471" cy="859.6" r="17.2" fill="#37476a"/>
<use href="#i-exit" x="3421.4" y="580.7" width="98.6" height="98.6"/>
<circle cx="4168" cy="1079" r="17.2" fill="#37476a"/>
<use href="#i-rest" x="3777.4" y="1034.1" width="98.6" height="98.6"/>
<circle cx="4230.5" cy="1436" r="17.2" fill="#37476a"/>
<use href="#i-stairs" x="3771.4" y="1455.7" width="98.6" height="98.6"/>
<circle cx="4168" cy="1737" r="17.2" fill="#37476a"/>
<use href="#i-rest" x="3776.7" y="1691.7" width="98.6" height="98.6"/>
<circle cx="4068.6" cy="1943.5" r="17.2" fill="#37476a"/>
<use href="#i-toilet" x="4019.7" y="2324.7" width="98.6" height="98.6"/>
<circle cx="4299.8" cy="2012" r="17.2" fill="#37476a"/>
<use href="#i-cafe" x="4242.7" y="2324.7" width="98.6" height="98.6"/>
<path d="M841.8,1788 V1848 H913 V1788" fill="none" stroke="#37476a" stroke-width="6"/>
<circle cx="841.8" cy="1788" r="17.2" fill="#37476a"/>
<circle cx="912.3" cy="1788" r="17.2" fill="#37476a"/>
<circle cx="913" cy="1848" r="17.2" fill="#37476a"/>
<circle cx="841.8" cy="1848" r="17.2" fill="#37476a"/>
<path d="M4068.6,1943.5 H4133" fill="none" stroke="#37476a" stroke-width="6"/>
<circle cx="4133" cy="1943.5" r="17.2" fill="#37476a"/>
<circle cx="4068.6" cy="1943.5" r="17.2" fill="#37476a"/></g>
<g id="legend"><text x="251.98" y="2597" font-size="59" font-weight="normal" fill="#000" textLength="867.06" lengthAdjust="spacingAndGlyphs" stroke="#fff" stroke-width="1">УСЛОВНЫЕ ОБОЗНАЧЕНИЯ</text>
<rect x="253" y="2602" width="863" height="3" fill="#000"/>
<text x="378.93" y="2731" font-size="51.5" font-weight="normal" fill="#000" textLength="357.07" lengthAdjust="spacingAndGlyphs" stroke="#fff" stroke-width="1">РАЗДЕВАЛКА</text>
<use href="#i-locker" x="232.0" y="2662.9" width="113.4" height="113.4"/>
<text x="383.98" y="2911" font-size="51.5" font-weight="normal" fill="#000" textLength="270.62" lengthAdjust="spacingAndGlyphs" stroke="#fff" stroke-width="1">ДУШЕВАЯ</text>
<use href="#i-shower" x="232.3" y="2842.1" width="113.4" height="113.4"/>
<text x="383.97" y="3089" font-size="51.5" font-weight="normal" fill="#000" textLength="200.06" lengthAdjust="spacingAndGlyphs" stroke="#fff" stroke-width="1">ТУАЛЕТ</text>
<use href="#i-toilet" x="232.3" y="3019.0" width="113.4" height="113.4"/>
<text x="1166.92" y="2731.5" font-size="51.5" font-weight="normal" fill="#000" textLength="347.61" lengthAdjust="spacingAndGlyphs" stroke="#fff" stroke-width="1">ПАДЕЛ-КОРТ</text>
<use href="#i-padel" x="1019.3" y="2662.9" width="113.4" height="113.4"/>
<text x="1164.49" y="2911" font-size="51.5" font-weight="normal" fill="#000" textLength="488.54" lengthAdjust="spacingAndGlyphs" stroke="#fff" stroke-width="1">ТЕХ. ПОМЕЩЕНИЕ</text>
<use href="#i-tech" x="1019.3" y="2841.9" width="113.4" height="113.4"/>
<text x="1166.87" y="3089" font-size="51.5" font-weight="normal" fill="#000" textLength="304.75" lengthAdjust="spacingAndGlyphs" stroke="#fff" stroke-width="1">РЕСЕПШЕН</text>
<use href="#i-reception" x="1019.3" y="3019.1" width="113.4" height="113.4"/>
<text x="1953.96" y="2731" font-size="51.5" font-weight="normal" fill="#000" textLength="316.09" lengthAdjust="spacingAndGlyphs" stroke="#fff" stroke-width="1">ЗОНА КАФЕ</text>
<use href="#i-cafe" x="1802.3" y="2662.7" width="113.4" height="113.4"/>
<text x="1953.97" y="2911" font-size="51.5" font-weight="normal" fill="#000" textLength="392.04" lengthAdjust="spacingAndGlyphs" stroke="#fff" stroke-width="1">ЗОНА ОТДЫХА</text>
<use href="#i-rest" x="1802.3" y="2842.1" width="113.4" height="113.4"/>
<text x="1953.99" y="3089" font-size="51.5" font-weight="normal" fill="#000" textLength="297.03" lengthAdjust="spacingAndGlyphs" stroke="#fff" stroke-width="1">ЛЕСТНИЦА</text>
<use href="#i-stairs" x="1802.3" y="3019.1" width="113.4" height="113.4"/>
<text x="2689.94" y="2731.3" font-size="51.5" font-weight="normal" fill="#000" textLength="431.08" lengthAdjust="spacingAndGlyphs" stroke="#fff" stroke-width="1">ГЛАВНЫЙ ВХОД</text>
<use href="#i-entrance" x="2535.3" y="2662.7" width="113.4" height="113.4"/>
<text x="2686.48" y="2910" font-size="51.5" font-weight="normal" fill="#000" textLength="723.53" lengthAdjust="spacingAndGlyphs" stroke="#fff" stroke-width="1">ЭВАКУАЦИОННЫЙ ВЫХОД</text>
<use href="#i-exit" x="2535.5" y="2842.1" width="113.4" height="113.4"/></g>
</svg></body></html>
